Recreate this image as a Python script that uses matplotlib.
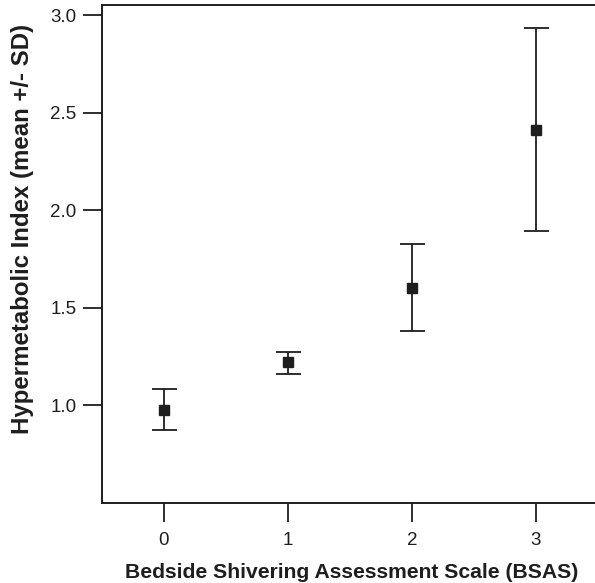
import matplotlib
matplotlib.use("Agg")
import matplotlib.pyplot as plt
import numpy as np

# data
bsas = [0, 1, 2, 3]
hmi_mean = [0.976, 1.221, 1.603, 2.413]
hmi_low = [0.874, 1.161, 1.380, 1.891]
hmi_high = [1.082, 1.274, 1.828, 2.937]

plt.rcParams['font.family'] = ['Liberation Sans', 'DejaVu Sans']

mean = np.array(hmi_mean)
err = [mean - np.array(hmi_low), np.array(hmi_high) - mean]

fig = plt.figure(figsize=(5.95, 5.83), dpi=100)
ax = fig.add_axes([0.1714, 0.1377, 0.8336, 0.8529])

ink = '#1e1e1e'
ax.errorbar(bsas, mean, yerr=err, fmt='s', color=ink, ecolor=ink,
            markersize=6.5, elinewidth=1.3, capsize=9, capthick=1.3)

ax.set_xlim(-0.5, 3.5)
ax.set_ylim(0.5, 3.05)
ax.set_xticks(bsas)
ax.set_yticks([1.0, 1.5, 2.0, 2.5, 3.0])
ax.set_yticklabels(['1.0', '1.5', '2.0', '2.5', '3.0'])

ax.spines['right'].set_visible(False)
for s in ['left', 'bottom', 'top']:
    ax.spines[s].set_linewidth(1.4)
    ax.spines[s].set_color(ink)

ax.tick_params(axis='both', direction='out', length=14, width=1.3,
               colors=ink, labelsize=13.5, labelcolor=ink)
ax.tick_params(axis='x', pad=7)
ax.tick_params(axis='y', pad=4.5)
ax.tick_params(top=False, right=False)

# axis titles placed in figure coords
fig.text(0.591, 0.009, 'Bedside Shivering Assessment Scale (BSAS)',
         fontsize=15.2, fontweight='bold', color=ink,
         ha='center', va='baseline')
fig.text(0.038, 0.608, 'Hypermetabolic Index (mean +/- SD)',
         fontsize=17.3, fontweight='bold', color=ink,
         ha='center', va='center', rotation=90)

fig.savefig('out.png', dpi=100)
